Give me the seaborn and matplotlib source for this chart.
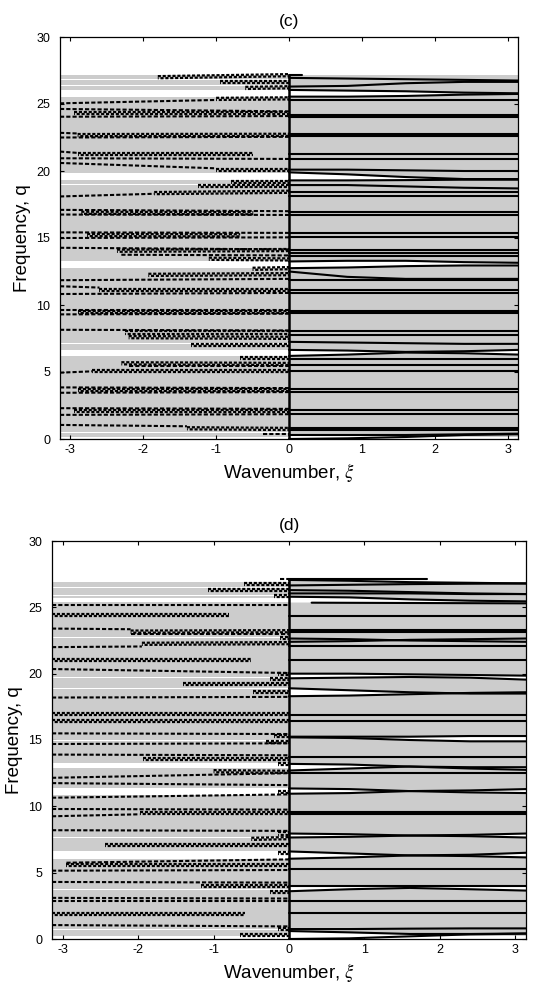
import numpy as np
import pandas as pd
import matplotlib
matplotlib.use("Agg")
import matplotlib.pyplot as plt
import seaborn as sns

sns.set_theme(style="ticks")
plt.rcParams["font.family"] = ["Liberation Sans", "DejaVu Sans"]
plt.rcParams["mathtext.fontset"] = "stix"
plt.rcParams["axes.unicode_minus"] = False

PI = np.pi
XI5 = [0.0, 0.8, 1.6, 2.4, PI]
GRAY = "#cccccc"

# ---------------- Panel (c) ----------------
C_BAND = [0.15, 27.2]
C_GAPS = [(26.78, 26.86), (26.36, 26.44), (25.55, 26.05), (19.3, 19.85), (18.96, 19.04),
          (12.75, 13.25), (7.06, 7.13), (6.2, 6.65), (0.42, 0.5)]
C_FLAT = [25.3, 24.2, 24.05, 22.75, 22.6, 21.3, 20.9, 18.45, 18.15, 16.97, 16.72, 15.4, 15.05,
          14.1, 13.9, 13.65, 11.85, 11.15, 10.9, 9.55, 9.4, 8.05, 7.75, 6.0, 5.55, 5.05, 3.7, 3.5,
          2.2, 1.85, 0.85, 0.65]
C_CURVES = [
    [26.95, 26.9, 26.85, 26.8, 26.75],
    [26.3, 26.35, 26.55, 26.65, 26.65],
    [26.05, 26.0, 25.95, 25.85, 25.8],
    [25.55, 25.55, 25.6, 25.7, 25.75],
    [20.1, 20.1, 20.05, 20.0, 20.0],
    [19.9, 19.75, 19.55, 19.4, 19.4],
    [19.3, 19.3, 19.32, 19.35, 19.35],
    [18.95, 18.95, 18.85, 18.75, 18.7],
    [13.25, 13.3, 13.3, 13.2, 13.15],
    [12.75, 12.8, 12.9, 12.95, 12.95],
    [12.5, 12.1, 11.95, 11.95, 11.95],
    [7.25, 7.2, 7.15, 7.1, 7.1],
    [6.65, 6.6, 6.5, 6.55, 6.65],
    [6.2, 6.3, 6.45, 6.4, 6.3],
    [0.0, 0.05, 0.15, 0.3, 0.35],
    [0.3, 0.3, 0.3, 0.35, 0.4],
]
C_WEDGES = [
    ([25.55, 25.55, 25.6, 25.7, 25.75], [26.05, 26.0, 25.95, 25.85, 25.8]),
    ([19.3, 19.3, 19.32, 19.35, 19.35], [19.9, 19.75, 19.55, 19.4, 19.4]),
    ([12.75, 12.8, 12.9, 12.95, 12.95], [13.25, 13.3, 13.3, 13.2, 13.15]),
    ([6.2, 6.3, 6.45, 6.4, 6.3], [6.65, 6.6, 6.5, 6.55, 6.65]),
    ([0.0, 0.05, 0.15, 0.3, 0.35], [0.3, 0.3, 0.3, 0.35, 0.4]),
]
C_SEGS = [(0.0, 27.2, 0.18, 27.2)]
C_DASH = [
    (-PI, 25.05, -1.0, 25.3), (-PI, 24.63, 0.0, 24.45), (-PI, 24.05, 0.0, 24.1),
    (-PI, 22.85, -2.9, 22.8), (-PI, 22.5, 0.0, 22.55), (-PI, 21.45, -2.9, 21.35),
    (-PI, 20.95, 0.0, 20.9), (-PI, 20.6, -1.0, 20.2), (-PI, 18.1, -1.85, 18.3),
    (-PI, 17.1, 0.0, 17.0), (-PI, 16.75, 0.0, 16.72), (-PI, 15.42, 0.0, 15.38),
    (-PI, 15.0, 0.0, 15.05), (-PI, 14.27, 0.0, 14.15), (-2.3, 13.75, 0.0, 13.7),
    (-PI, 11.85, 0.0, 11.95), (-PI, 11.4, -2.6, 11.3), (-PI, 10.82, 0.0, 10.9),
    (-PI, 9.6, 0.0, 9.6), (-PI, 9.3, 0.0, 9.35), (-PI, 8.15, 0.0, 8.1),
    (-2.2, 5.45, 0.0, 5.45), (-PI, 4.95, -2.7, 5.05), (-PI, 3.85, 0.0, 3.8),
    (-PI, 3.45, 0.0, 3.5), (-PI, 2.3, 0.0, 2.25), (-PI, 1.8, 0.0, 1.85),
    (-PI, 1.05, -1.4, 0.95), (-0.35, 0.4, 0.0, 0.4),
]
C_ZIG = [
    (-1.8, 27.0, 0.0, 27.15), (-0.95, 26.62, 0.0, 26.62), (-0.6, 26.2, 0.0, 26.25),
    (-1.0, 25.38, 0.0, 25.42), (-2.95, 24.3, 0.0, 24.3), (-2.9, 22.68, 0.0, 22.7),
    (-2.9, 21.25, -0.5, 21.25), (-1.0, 20.05, 0.0, 20.05), (-0.8, 19.2, 0.0, 19.2),
    (-1.25, 18.85, 0.0, 18.85), (-1.85, 18.35, 0.0, 18.45), (-2.85, 16.88, -0.49, 16.85),
    (-2.77, 15.22, -0.67, 15.2), (-2.36, 14.05, 0.0, 14.1), (-1.1, 13.45, 0.0, 13.4),
    (-0.5, 12.7, 0.0, 12.75), (-1.93, 12.25, 0.0, 12.3), (-2.6, 11.15, 0.0, 11.15),
    (-2.9, 9.45, 0.0, 9.45), (-2.25, 7.95, 0.0, 7.95), (-2.2, 7.6, 0.0, 7.55),
    (-1.35, 7.0, 0.0, 7.0), (-0.67, 6.05, 0.0, 6.05), (-2.3, 5.65, 0.0, 5.6),
    (-2.7, 5.05, 0.0, 5.05), (-2.9, 3.65, 0.0, 3.65), (-2.95, 2.1, 0.0, 2.1),
    (-1.4, 0.8, 0.0, 0.75),
]

# ---------------- Panel (d) ----------------
D_BAND = [0.2, 26.9]
D_GAPS = [(26.45, 26.55), (25.85, 25.95), (25.4, 25.7), (22.66, 22.74), (19.65, 19.73),
          (18.85, 18.93), (14.95, 15.03), (12.9, 13.25), (10.85, 11.35), (7.62, 7.7),
          (6.0, 6.6), (3.66, 3.74), (0.7, 0.78)]
D_FLAT = [24.35, 23.28, 23.16, 22.1, 21.0, 16.9, 16.45, 13.75, 12.5, 9.55, 9.45, 5.3, 2.85, 1.95]
D_CURVES = [
    [27.05, 27.0, 26.9, 26.85, 26.8],
    [26.65, 26.7, 26.75, 26.78, 26.8],
    [26.3, 26.25, 26.15, 26.05, 26.0],
    [26.05, 26.05, 26.05, 26.0, 26.0],
    [25.8, 25.75, 25.6, 25.5, 25.45],
    [22.65, 22.6, 22.5, 22.45, 22.4],
    [22.4, 22.45, 22.55, 22.6, 22.65],
    [20.0, 20.0, 19.95, 19.9, 19.85],
    [19.65, 19.7, 19.75, 19.7, 19.55],
    [18.9, 18.75, 18.6, 18.5, 18.5],
    [18.3, 18.35, 18.45, 18.55, 18.6],
    [15.25, 15.25, 15.25, 15.3, 15.3],
    [15.2, 15.15, 15.0, 14.9, 14.9],
    [13.2, 13.15, 13.0, 12.95, 12.95],
    [12.7, 12.85, 13.0, 12.85, 12.75],
    [11.35, 11.3, 11.15, 11.2, 11.3],
    [10.95, 11.0, 11.15, 11.05, 11.0],
    [7.95, 7.9, 7.8, 7.85, 7.95],
    [7.65, 7.7, 7.8, 7.75, 7.65],
    [6.6, 6.45, 6.3, 6.35, 6.5],
    [6.05, 6.15, 6.3, 6.25, 6.15],
    [4.0, 4.0, 4.0, 4.0, 4.0],
    [3.6, 3.75, 3.85, 3.75, 3.65],
    [0.75, 0.75, 0.78, 0.8, 0.8],
    [0.6, 0.5, 0.38, 0.38, 0.42],
    [0.0, 0.05, 0.2, 0.35, 0.4],
]
D_WEDGES = [
    ([25.4, 25.4, 25.4, 25.4, 25.4], [25.8, 25.75, 25.6, 25.5, 25.45]),
    ([19.65, 19.7, 19.75, 19.7, 19.55], [20.0, 20.0, 19.95, 19.9, 19.85]),
    ([18.3, 18.35, 18.45, 18.55, 18.6], [18.9, 18.75, 18.6, 18.5, 18.5]),
    ([15.2, 15.15, 15.0, 14.9, 14.9], [15.25, 15.25, 15.25, 15.3, 15.3]),
    ([12.7, 12.85, 13.0, 12.85, 12.75], [13.2, 13.15, 13.0, 12.95, 12.95]),
    ([10.95, 11.0, 11.15, 11.05, 11.0], [11.35, 11.3, 11.15, 11.2, 11.3]),
    ([7.65, 7.7, 7.8, 7.75, 7.65], [7.95, 7.9, 7.8, 7.85, 7.95]),
    ([6.05, 6.15, 6.3, 6.25, 6.15], [6.6, 6.45, 6.3, 6.35, 6.5]),
    ([3.6, 3.75, 3.85, 3.75, 3.65], [4.0, 4.0, 4.0, 4.0, 4.0]),
    ([0.0, 0.05, 0.2, 0.35, 0.4], [0.6, 0.5, 0.38, 0.38, 0.42]),
]
D_SEGS = [(0.0, 27.1, 1.83, 27.1), (0.3, 25.35, PI, 25.3)]
D_DASH = [
    (-0.12, 27.1, 0.0, 27.1), (-PI, 25.2, 0.0, 25.2), (-PI, 23.4, -2.1, 23.35),
    (-2.1, 23.0, 0.0, 23.0), (-PI, 22.0, -1.95, 22.05), (-PI, 20.35, 0.0, 20.05),
    (-PI, 18.2, 0.0, 18.25), (-PI, 15.5, 0.0, 15.45), (-PI, 14.7, 0.0, 14.75),
    (-PI, 13.9, 0.0, 13.85), (-PI, 12.15, 0.0, 12.5), (-PI, 11.75, 0.0, 11.6),
    (-PI, 10.65, 0.0, 10.9), (-PI, 9.8, 0.0, 9.75), (-PI, 9.25, -1.98, 9.4),
    (-PI, 8.2, 0.0, 8.15), (-2.95, 5.75, 0.0, 6.0), (-PI, 5.15, 0.0, 5.2),
    (-PI, 4.3, 0.0, 4.25), (-PI, 3.1, 0.0, 3.05), (-PI, 2.85, 0.0, 2.85),
    (-PI, 1.05, 0.0, 0.95),
]
D_ZIG = [
    (-0.6, 26.75, 0.0, 26.75), (-1.07, 26.28, 0.0, 26.28), (-0.2, 25.85, 0.0, 25.85),
    (-PI, 24.4, -0.8, 24.4), (-2.1, 23.17, 0.0, 23.2), (-0.12, 22.7, 0.0, 22.7),
    (-1.95, 22.25, 0.0, 22.3), (-PI, 21.0, -0.5, 21.0), (-0.15, 20.0, 0.0, 20.0),
    (-0.25, 19.6, 0.0, 19.6), (-1.4, 19.2, 0.0, 19.2), (-0.48, 18.65, 0.0, 18.65),
    (-PI, 16.95, 0.0, 16.95), (-PI, 16.45, 0.0, 16.45), (-0.2, 15.3, 0.0, 15.3),
    (-0.3, 14.87, 0.0, 14.87), (-1.93, 13.6, 0.0, 13.6), (-0.15, 13.2, 0.0, 13.2),
    (-1.0, 12.65, 0.0, 12.6), (-0.15, 11.1, 0.0, 11.1), (-1.98, 9.5, 0.0, 9.5),
    (-0.15, 7.95, 0.0, 7.95), (-0.5, 7.55, 0.0, 7.6), (-2.44, 7.1, 0.0, 7.1),
    (-0.15, 6.45, 0.0, 6.45), (-2.95, 5.55, 0.0, 5.55), (-1.17, 4.0, 0.0, 4.0),
    (-0.25, 3.55, 0.0, 3.55), (-PI, 1.9, -0.58, 1.9), (-0.15, 0.75, 0.0, 0.75),
    (-0.65, 0.3, 0.0, 0.3),
]


def seg_frame(segs, dq=0.0):
    rows = []
    for i, (x0, q0, x1, q1) in enumerate(segs):
        rows.append((i, x0, q0 + dq))
        rows.append((i, x1, q1 + dq))
    return pd.DataFrame(rows, columns=["id", "xi", "q"])


def solid_frame(flat, curves, segs):
    rows = []
    k = 0
    for q in flat:
        rows += [(k, 0.0, q), (k, PI, q)]
        k += 1
    for c in curves:
        rows += [(k, x, q) for x, q in zip(XI5, c)]
        k += 1
    for x0, q0, x1, q1 in segs:
        rows += [(k, x0, q0), (k, x1, q1)]
        k += 1
    return pd.DataFrame(rows, columns=["id", "xi", "q"])


def draw(ax, band, gaps, flat, curves, wedges, segs, dash, zig, title):
    ax.fill_between([-PI, PI], band[0], band[1], color=GRAY, lw=0, zorder=0)
    for lo, hi in gaps:
        ax.fill_between([-PI, 0.0], lo, hi, color="white", lw=0, zorder=1)
    for lo, hi in wedges:
        lo = np.asarray(lo)
        hi = np.asarray(hi)
        ax.fill_between(XI5, lo, hi, where=hi >= lo, interpolate=True,
                        color="white", lw=0, zorder=1)

    sns.lineplot(data=solid_frame(flat, curves, segs), x="xi", y="q", units="id",
                 estimator=None, sort=False, color="black", linewidth=1.5,
                 ax=ax, legend=False, zorder=3)
    sns.lineplot(data=seg_frame(dash), x="xi", y="q", units="id", estimator=None,
                 sort=False, color="black", linewidth=1.5, linestyle=(0, (2.0, 1.0)),
                 ax=ax, legend=False, zorder=3)
    sns.lineplot(data=seg_frame(zig, 0.08), x="xi", y="q", units="id", estimator=None,
                 sort=False, color="black", linewidth=1.6, linestyle=(0, (1.4, 0.8)),
                 ax=ax, legend=False, zorder=3)
    sns.lineplot(data=seg_frame(zig, -0.08), x="xi", y="q", units="id", estimator=None,
                 sort=False, color="black", linewidth=1.6, linestyle=(1.0, (1.4, 0.8)),
                 ax=ax, legend=False, zorder=3)
    ax.vlines(0.0, 0.0, segs[0][1], color="black", lw=1.8, zorder=4)

    ax.set_xlim(-PI, PI)
    ax.set_ylim(0, 30)
    ax.set_xticks(range(-3, 4))
    ax.set_yticks(range(0, 31, 5))
    ax.tick_params(direction="in", top=True, right=True, length=3, width=0.8,
                   labelsize=9, colors="black")
    ax.tick_params(axis="y", pad=7)
    for s in ax.spines.values():
        s.set_visible(True)
        s.set_color("black")
        s.set_linewidth(0.9)
    ax.set_xlabel(r"Wavenumber, $\xi$", fontsize=13.5, color="black")
    ax.set_ylabel("Frequency, q", fontsize=13.5, color="black")
    ax.set_title(title, fontsize=12.5, pad=8, color="black")


fig = plt.figure(figsize=(5.43, 9.94), dpi=100)
ax1 = fig.add_axes([60 / 543, (994 - 439) / 994, 458 / 543, 402 / 994])
ax2 = fig.add_axes([52 / 543, (994 - 939) / 994, 474 / 543, 398 / 994])

draw(ax1, C_BAND, C_GAPS, C_FLAT, C_CURVES, C_WEDGES, C_SEGS, C_DASH, C_ZIG, "(c)")
draw(ax2, D_BAND, D_GAPS, D_FLAT, D_CURVES, D_WEDGES, D_SEGS, D_DASH, D_ZIG, "(d)")

fig.savefig("out.png", dpi=100)
